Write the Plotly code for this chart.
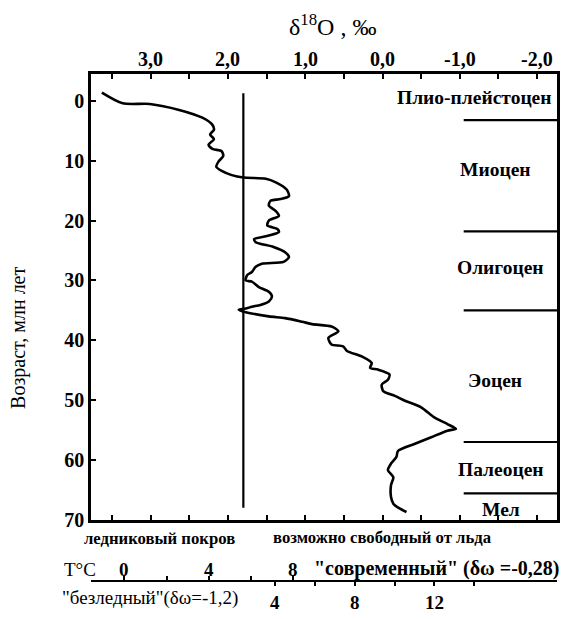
import plotly.graph_objects as go

# ---------------- data ----------------
age_ma = [-1.4, 0.4, 0.5, 1.5, 2.8, 4.0, 4.8, 5.6, 6.4, 7.3, 8.0, 8.4, 9.2, 10.1, 11.0,
          11.7, 12.4, 12.8, 13.0, 13.6, 14.8, 15.9, 16.4, 16.7, 17.5, 18.4, 19.2, 20.0,
          20.8, 21.4, 21.9, 22.5, 23.1, 23.6, 24.4, 25.3, 26.1, 26.9, 27.2, 27.7, 28.6,
          29.1, 30.0, 30.2, 31.1, 31.9, 32.7, 33.5, 34.1, 34.4, 34.7, 34.9, 35.3, 36.0,
          36.3, 36.9, 37.3, 37.7, 38.5, 39.6, 40.7, 41.0, 41.8, 42.7, 43.8, 44.6, 44.9,
          45.7, 46.6, 47.4, 48.5, 49.3, 50.1, 51.2, 52.9, 54.0, 54.8, 55.1, 56.2, 57.3,
          58.5, 59.5, 60.6, 61.7, 62.9, 64.2, 66.2, 67.3, 68.1, 68.7]
d18o = [3.63, 3.36, 3.01, 2.63, 2.33, 2.20, 2.18, 2.23, 2.18, 2.25, 2.20, 2.08, 2.06, 2.12, 2.15,
        2.08, 1.95, 1.80, 1.51, 1.38, 1.24, 1.21, 1.32, 1.45, 1.47, 1.38, 1.34, 1.47,
        1.49, 1.36, 1.34, 1.47, 1.66, 1.64, 1.41, 1.26, 1.21, 1.28, 1.56, 1.64, 1.69,
        1.75, 1.77, 1.69, 1.60, 1.47, 1.43, 1.47, 1.58, 1.69, 1.77, 1.86, 1.77, 1.47,
        1.26, 1.04, 0.91, 0.66, 0.57, 0.70, 0.66, 0.51, 0.46, 0.27, 0.14, 0.16, 0.06,
        -0.09, -0.07, 0.01, -0.01, -0.16, -0.29, -0.50, -0.67, -0.84, -0.95, -0.84, -0.63, -0.42,
        -0.20, -0.18, -0.11, -0.07, -0.14, -0.11, -0.11, -0.14, -0.22, -0.31]

ice_threshold_d18o = [1.80, 1.80]
ice_threshold_age = [-1.3, 68.0]

epoch_names = ["Плио-плейстоцен", "Миоцен", "Олигоцен", "Эоцен", "Палеоцен", "Мел"]
epoch_label_age = [-0.5, 11.4, 27.9, 46.7, 61.6, 68.2]
epoch_label_d18o = [-1.19, -1.46, -1.53, -1.46, -1.53, -1.53]
boundary_ages = [3.2, 21.8, 35.0, 57.0, 65.6]
boundary_x = [-1.05, -2.26]

d18o_ticks = [3.5, 3.0, 2.5, 2.0, 1.5, 1.0, 0.5, 0.0, -0.5, -1.0, -1.5, -2.0]
d18o_ticktext = ["", "3,0", "", "2,0", "", "1,0", "", "0,0", "", "-1,0", "", "-2,0"]
age_ticks = [0, 10, 20, 30, 40, 50, 60, 70]

t_modern_ticks = [0, 2, 4, 6, 8]
t_modern_text = ["0", "", "4", "", "8"]
t_icefree_major = [4, 8, 12]
t_icefree_minor = [6, 10, 14]

FONT = "Liberation Serif"
W, H = 564, 619
ML, MR, MT, MB = 86, 4, 74, 10
PW, PH = W - ML - MR, H - MT - MB


def px(x):
    return (x - ML) / PW


def py(y):
    return (H - MB - y) / PH


fig = go.Figure()

fig.add_trace(go.Scatter(x=d18o, y=age_ma, mode="lines",
                         line=dict(color="black", width=2.6, shape="spline", smoothing=0.7),
                         showlegend=False, hoverinfo="skip"))
fig.add_trace(go.Scatter(x=ice_threshold_d18o, y=ice_threshold_age, mode="lines",
                         line=dict(color="black", width=2.2), showlegend=False, hoverinfo="skip"))
for a in boundary_ages:
    fig.add_trace(go.Scatter(x=boundary_x, y=[a, a], mode="lines",
                             line=dict(color="black", width=2.2), showlegend=False, hoverinfo="skip"))
# dummy traces to register the temperature axes
fig.add_trace(go.Scatter(x=[None], y=[None], xaxis="x2", yaxis="y", showlegend=False))
fig.add_trace(go.Scatter(x=[None], y=[None], xaxis="x3", yaxis="y", showlegend=False))

for name, a, d in zip(epoch_names, epoch_label_age, epoch_label_d18o):
    fig.add_annotation(x=d, y=a, xref="x", yref="y", text="<b>" + name + "</b>", showarrow=False,
                       font=dict(family=FONT, size=19.5, color="black"))

# top δ18O tick labels, close above the frame
for v, lab in zip(d18o_ticks, d18o_ticktext):
    if lab:
        fig.add_annotation(x=v, y=py(59), xref="x", yref="paper", text="<b>" + lab + "</b>",
                           showarrow=False, yanchor="middle",
                           font=dict(family=FONT, size=20, color="black"))

# labels of the "modern" temperature scale, just above its line
for t, lab in zip(t_modern_ticks, t_modern_text):
    if lab:
        fig.add_annotation(x=t, y=py(574), xref="x2", yref="paper", text="<b>" + lab + "</b>",
                           showarrow=False, yanchor="middle",
                           font=dict(family=FONT, size=19, color="black"))

texts = [
    ("δ<sup>18</sup>O , ‰", px(334), py(25), "center", 24, 0),
    ("Возраст, млн лет", px(18), py(340), "center", 20, -90),
    ("<b>ледниковый покров</b>", px(159.5), py(543), "center", 16.7, 0),
    ("<b>возможно свободный от льда</b>", px(384), py(542), "center", 16.7, 0),
    ("T°C", px(80), py(574), "center", 19, 0),
    ("<b>\"современный\" (δω =-0,28)</b>", px(313), py(573), "left", 20, 0),
    ("\"безледный\"(δω=-1,2)", px(150), py(603), "center", 19, 0),
]
for t, x, y, xa, s, ang in texts:
    fig.add_annotation(x=x, y=y, xref="paper", yref="paper", text=t, showarrow=False,
                       xanchor=xa, yanchor="middle", textangle=ang,
                       font=dict(family=FONT, size=s, color="black"))

fig.update_layout(
    width=W, height=H,
    margin=dict(l=ML, r=MR, t=MT, b=MB, pad=0),
    paper_bgcolor="white", plot_bgcolor="white",
    showlegend=False,
    font=dict(family=FONT, color="black", size=19),
    xaxis=dict(
        domain=[px(91), 1], side="top", range=[3.771, -2.257],
        tickvals=d18o_ticks, showticklabels=False,
        ticks="inside", ticklen=5, tickwidth=2, tickcolor="black",
        showline=True, linewidth=2.5, linecolor="black", mirror="ticks",
        showgrid=False, zeroline=False,
    ),
    yaxis=dict(
        domain=[py(524), 1], range=[70, -4.5],
        tickvals=age_ticks, ticktext=["<b>%d</b>" % v for v in age_ticks],
        ticks="inside", ticklen=5, tickwidth=2, tickcolor="black",
        showline=True, linewidth=2.5, linecolor="black", mirror=True,
        showgrid=False, zeroline=False,
        tickfont=dict(family=FONT, size=20, color="black"),
    ),
    xaxis2=dict(
        domain=[0, 1], anchor="free", overlaying="x", side="top", position=py(586),
        range=[-1.581, 20.465],
        tickvals=t_modern_ticks, showticklabels=False,
        ticks="outside", ticklen=4, tickwidth=2, tickcolor="black",
        showline=True, linewidth=2, linecolor="black",
        showgrid=False, zeroline=False,
    ),
    xaxis3=dict(
        domain=[0, 1], anchor="free", overlaying="x", side="bottom", position=py(586),
        range=[-5.212, 18.138],
        tickvals=t_icefree_major, ticktext=["<b>%d</b>" % v for v in t_icefree_major],
        ticks="outside", ticklen=4, tickwidth=2, tickcolor="black",
        minor=dict(tickmode="array", tickvals=t_icefree_minor, ticks="outside",
                   ticklen=4, tickwidth=2, tickcolor="black", showgrid=False),
        showline=False,
        showgrid=False, zeroline=False,
        tickfont=dict(family=FONT, size=19, color="black"),
    ),
)

fig.write_html("out.html")
